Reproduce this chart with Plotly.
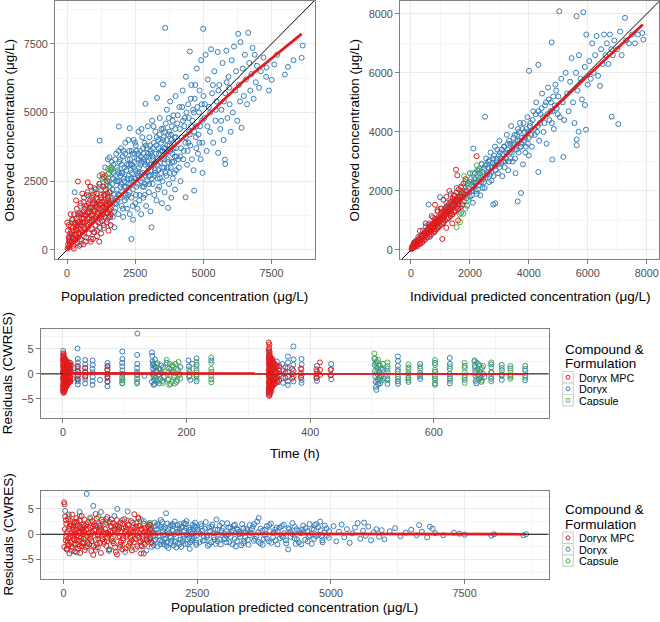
import plotly.graph_objects as go

W, H = 660, 622
RED, BLUE, GREEN = "#E41A1C", "#377EB8", "#4DAF4A"
BORDER, TICKTXT = "#7F7F7F", "#4D4D4D"
FONT = "Liberation Sans, Arial, sans-serif"

# ---------------- data: panel 1 (PRED vs DV) ----------------
p1_doryx = [(50,100),(80,400),(120,250),(150,700),(200,500),(220,1100),(280,2100),(300,350),(350,900),(400,1300),
 (420,600),(480,1600),(500,200),(550,1000),(600,1750),(620,500),(680,1300),(720,2000),(750,800),(800,1500),(850,2300),
 (880,400),(900,1100),(950,1800),(980,650),(1000,2250),(1050,1200),(1080,1900),(1100,700),(1150,1500),(1200,3980),
 (1200,2300),(1220,1000),(1250,1700),(1300,2600),(1320,1300),(1350,800),(1380,2000),(1400,3000),(1420,1500),(1450,2400),
 (1480,1100),(1500,1800),(1500,3300),(1520,2600),(1550,1400),(1560,3370),(1580,2100),(1600,900),(1620,2900),(1640,1700),
 (1660,2400),(1680,1200),(1700,3100),(1720,2000),(1740,823),(1760,2700),(1780,1500),(1800,3500),(1820,2200),(1840,1800),
 (1860,2900),(1880,1300),(1900,4490),(1900,2500),(1920,3200),(1940,1900),(1960,2300),(1980,3700),(2000,1600),(2000,2800),
 (2020,2100),(2040,3400),(2060,1200),(2080,2600),(2100,3000),(2120,1800),(2140,3900),(2160,2300),(2180,2900),(2200,1500),
 (2220,3300),(2240,2000),(2260,2700),(2280,3600),(2300,4430),(2300,1300),(2320,2400),(2340,3100),(2360,400),(2360,1900),
 (2380,2800),(2400,3500),(2420,1100),(2420,2200),(2440,4000),(2460,2600),(2480,3200),(2500,1700),(2500,2900),(2520,3800),
 (2540,2300),(2560,3300),(2580,1500),(2600,2700),(2620,4300),(2640,3000),(2660,2000),(2680,3600),(2700,2500),(2720,1300),
 (2740,3200),(2760,4100),(2780,2800),(2800,1900),(2800,3500),(2820,2300),(2840,3900),(2860,2700),(2876,5314),(2880,3100),
 (2900,1600),(2920,3700),(2940,2500),(2960,4500),(2980,3000),(3000,2100),(3000,3400),(3020,4100),(3040,2700),(3060,1400),
 (3080,3600),(3097,823),(3100,3100),(3120,4700),(3140,2400),(3160,3300),(3180,3900),(3200,2000),(3220,2900),(3240,4300),
 (3260,3500),(3280,1800),(3300,5530),(3300,3100),(3320,2600),(3340,4000),(3360,3700),(3380,2300),(3400,4800),(3420,3200),
 (3440,2800),(3460,4400),(3480,1700),(3500,3600),(3500,2500),(3520,6020),(3540,4100),(3560,3000),(3580,2100),(3600,8080),
 (3600,3700),(3620,4600),(3640,2700),(3660,5100),(3680,3300),(3706,1530),(3720,4200),(3740,2400),(3760,3800),(3780,5400),
 (3800,3000),(3820,1900),(3840,4500),(3860,3500),(3880,2600),(3900,4900),(3920,3200),(3940,4100),(3960,2200),(3980,5600),
 (4000,3700),(4000,2900),(4040,4600),(4080,3300),(4120,5200),(4160,2500),(4200,4100),(4240,5800),(4280,3600),(4320,4800),
 (4344,1915),(4360,6300),(4400,3100),(4440,5300),(4480,4300),(4502,7218),(4520,3800),(4560,6000),(4600,4700),(4640,2900),
 (4660,2158),(4680,5500),(4720,4100),(4760,6600),(4800,3500),(4840,5000),(4880,4500),(4920,6900),(4968,2803),(4960,3900),
 (4990,8044),(5000,5600),(5040,4800),(5080,7100),(5120,3600),(5160,6200),(5200,5200),(5240,4300),(5280,7300),(5320,5700),
 (5360,3900),(5400,6500),(5440,4700),(5480,5400),(5520,7200),(5540,3530),(5580,6000),(5620,4400),(5660,5100),(5700,6800),
 (5740,4000),(5786,3287),(5800,3130),(5800,5700),(5840,7250),(5880,4800),(5920,6300),(5960,5300),(6000,4300),(6040,6900),
 (6080,5000),(6120,7400),(6160,5800),(6200,6500),(6240,4700),(6274,7862),(6300,6000),(6340,5400),(6360,7560),(6399,4441),
 (6440,6600),(6480,5600),(6520,7100),(6560,6200),(6600,5300),(6641,7899),(6680,6800),(6720,5800),(6760,6400),(6800,7350),
 (6840,5500),(6880,7100),(6920,6100),(6960,6700),(7040,5900),(7100,6500),(7200,7000),(7300,6300),(7316,6635),(7400,5800),
 (7499,6188),(7600,6750),(7700,7100),(7987,6381),(8100,6660),(8300,6900),(8600,6989),(8637,7437),
 (1530,1200),(1570,2300),(1610,3000),(1650,1900),(1690,2600),(1730,1400),(1770,3300),(1810,1700),(1850,2500),(1890,3600),
 (1930,2000),(1970,2700),(2010,3100),(2050,1500),(2090,2300),(2130,3500),(2170,1900),(2210,2600),(2250,4000),(2290,2100),
 (2330,2900),(2370,3600),(2410,1600),(2450,3000),(2490,3900),(2530,2000),(2570,2800),(2610,3500),(2650,1800),(2690,3100),
 (2730,4400),(2770,2300),(2810,3300),(2850,2000),(2890,3800),(2930,2800),(2970,3500),(3010,2400),(3050,3800),(3090,2900),
 (3130,3400),(3170,4500),(3210,2700),(3250,3200),(3290,4100),(3330,2200),(3370,3500),(3410,2600),(3450,3900),(3490,3000),
 (3530,4400),(3570,3300),(3610,2800),(3650,4000),(3690,3000),(3730,4800),(3770,2800),(3810,4200),(3850,3200),(3890,3900),
 (3930,2800),(3970,4400),(4020,3400),(4060,4900),(4100,3000),(4140,4400),(4180,3700),(4220,5200),(4260,3300),(4300,4500),
 (4340,3900),(4380,5000),(4420,3600),(4460,4800),(4500,4200),(4540,5500),(4580,3300),(4620,5100),(4660,4300),(4700,6000),
 (4740,3700),(4780,5200),(4820,4200),(4860,5800),(4900,3300),(4940,5300),
 (1540,2800),(1590,1700),(1630,3200),(1670,2200),(1710,2800),(1750,1700),(1790,2500),(1830,3000),(1870,2000),(1910,2800),
 (1950,3300),(1990,2400),(2030,2800),(2070,3600),(2110,2500),(2150,2000),(2190,3100),(2230,2400),(2270,3100),(2310,3300),
 (2350,2600),(2390,3100),(2430,2500),(2470,3500),(2510,2600),(2550,3600),(2590,2400),(2630,3300),(2670,2800),(2710,3400),
 (2750,2600),(2790,3700),(2830,3200),(2870,2400),(2910,3400),(2950,3200),(2990,2700),(3030,3100),(3070,3500),(3110,2600),
 (3150,3700),(3190,3100),(3230,2800),(3270,3800),(3310,3300),(3350,2900),(3390,4200),(3430,3600),(3470,3300),(3510,4000),
 (3550,3700),(3590,4300),(3630,3500),(3670,3800),(3710,3200),(3750,4300),(3790,3600),(3830,4000),(3870,4700),(3910,3700),
 (3950,3400),(3990,4100),(4150,3400),(4250,4700),(4350,4100),(4450,3900),(4550,4500),(4650,5000),(4750,4500),(4850,3900),
 (4950,4700),(5050,5300),(5150,4500),(5250,5000),(5350,6000),(5450,5100),(5550,5800),(5650,4700),(5750,5400),(5850,6100),
 (5950,5900)]
p1_capsule = [(300,900),(500,1300),(700,1600),(900,1200),(1000,2100),(1200,2400),(1300,2600),(1400,2700),(1450,2300),
 (1500,2000),(1100,1700),(800,2000),(600,1000),(400,500),(200,1000),(1350,1400),(1550,2500),(1250,2200),(950,1500),
 (1600,1700),(1600,2900),(1650,2980),(1500,2750),(1505,2950),(1200,2700)]
p1_mpc = [(20,50),(40,200),(60,450),(30,700),(10,1000),(80,120),(100,350),(120,600),(150,850),(150,250),(180,1100),
 (200,450),(220,150),(240,700),(260,1300),(280,950),(300,350),(320,550),(350,1150),(360,1500),(380,250),(400,800),
 (400,2490),(420,1000),(450,600),(470,1350),(500,400),(500,1700),(520,900),(550,1150),(570,650),(600,1400),(600,200),
 (620,1900),(650,1000),(670,750),(700,1250),(700,450),(720,1600),(750,2100),(760,2460),(780,900),(800,1150),(800,600),
 (820,1400),(850,1800),(870,300),(900,1050),(900,1550),(920,750),(950,1300),(950,2000),(980,1100),(1000,650),(1000,1700),
 (1020,1400),(1050,900),(1050,2200),(1080,1200),(1100,1550),(1100,500),(1120,1850),(1150,1000),(1150,1350),(1180,2400),
 (1200,1650),(1200,800),(1220,1250),(1250,2000),(1250,1450),(1280,1050),(1300,1750),(1300,2750),(1320,1300),(1350,2650),
 (1350,900),(1370,1550),(1400,2200),(1400,1200),(1420,1850),(1450,1000),(1450,1600),(1480,2500),(1500,1350),(1500,1900),
 (1520,700),(1550,1700),(1550,2100),(1580,1200),(1600,1500),(1600,900),(1620,1800),(250,50),(450,150),(680,300),(950,400),
 (1250,600),(130,1300),(60,900),(330,1800),(560,2050),(860,2300),(1180,300),(70,300),(180,550),(330,750),(480,950),
 (640,1250),(780,1350),(930,1700),(1080,1650),(1230,1900),(1380,1750),
 (90,500),(170,300),(210,800),(270,550),(310,1000),(370,700),(410,450),(440,1200),(490,750),(530,1300),(580,1000),(630,800),
 (660,1500),(710,1050),(740,1350),(790,1700),(830,1000),(880,1250),(910,1900),(970,1450),(1010,1150),(1060,1600),(1110,1300),
 (1160,1750),(1210,1500),(1260,1200),(1310,1550),(1360,2000),(1410,1650),(1460,1350),(1510,1650),(1560,1450),(1610,1300),
 (1470,2050),(1330,2300),(1090,2050),(840,1550),(610,1150),(390,900),(230,400)]
loess1_x = [0, 800, 1600, 2500, 3700, 5000, 6350, 7500, 8600]
loess1_y = [30, 850, 1640, 2470, 3560, 4750, 6040, 6960, 7860]

# ---------------- data: panel 2 (IPRED vs DV) ----------------
p2_doryx = [(50,80),(100,250),(150,120),(200,300),(250,450),(300,200),(350,500),(400,650),(450,350),(500,800),(550,550),
 (600,1540),(620,900),(650,450),(700,750),(750,1100),(800,600),(850,950),(900,1300),(950,800),(984,1790),(1000,1050),
 (1050,1400),(1100,900),(1150,1250),(1200,1600),(1250,1050),(1300,1450),(1350,1900),(1400,1200),(1450,1650),(1500,1300),
 (1550,2100),(1600,1500),(1650,1800),(1700,1250),(1750,2000),(1800,1650),(1850,2300),(1900,1500),(1950,2100),(2000,1800),
 (2000,2600),(2050,2200),(2100,1600),(2115,3440),(2150,2400),(2200,2000),(2250,2700),(2300,2200),(2350,1850),(2400,2900),
 (2450,2400),(2500,2100),(2512,4514),(2550,3100),(2600,2600),(2650,2300),(2700,3300),(2750,2800),(2794,1542),(2800,2500),
 (2850,3500),(2860,1580),(2900,3000),(2950,2600),(3000,3700),(3000,2800),(2080,2000),(2180,2250),(2280,2500),(2380,2300),
 (2480,2750),(2580,2900),(2680,2550),(2780,3100),(2880,2700),(2980,3200),(3050,3100),(3100,2500),(3150,3500),(3200,3000),
 (3250,3900),(3300,2700),(3350,3300),(3400,4200),(3450,3000),(3500,3600),(3550,2600),(3600,3900),(3621,1644),(3650,3300),
 (3700,4300),(3733,1927),(3750,3600),(3800,2900),(3850,4000),(3900,3500),(3950,4500),(4000,3800),(4000,3200),(3080,3400),
 (3180,2800),(3280,3600),(3380,3100),(3480,3800),(3580,3400),(3680,3700),(3780,4100),(3880,3300),(3980,4000),(4005,6069),
 (4050,4300),(4100,3500),(4150,4700),(4200,3900),(4250,5000),(4300,4200),(4321,6273),(4321,2641),(4350,3700),(4400,4600),
 (4450,5300),(4500,4000),(4550,4900),(4600,3600),(4650,5500),(4700,4400),(4750,5000),(4775,7033),(4796,3064),(4800,4700),
 (4850,4100),(4900,5600),(4950,4800),(5000,5200),(5034,8088),(5050,4500),(5100,5800),(5150,5000),(5170,3152),(5200,4400),
 (5250,6000),(5300,5300),(5350,4700),(5400,5700),(5450,6500),(5500,5000),(5550,4300),(5600,6000),(5622,7918),(5624,3550),
 (5624,3745),(5650,5400),(5690,4008),(5700,6600),(5750,5800),(5800,5100),(5848,8054),(5905,4912),(5900,6200),(5940,4076),
 (5950,7300),(6000,5600),(6050,6400),(6100,5800),(6150,7000),(6200,6000),(6250,6600),(6300,7250),(6350,5900),(6415,5559),
 (6450,6800),(6500,6300),(6550,7300),(6600,6600),(6650,7000),(6700,6300),(6750,7300),(6812,4514),(6800,6800),(6850,6600),
 (6900,7100),(7000,6800),(7036,4265),(7100,7400),(7150,6600),(7263,7863),(7300,7100),(7400,7000),(7500,7300),(7600,7000),
 (7700,7300),(7850,7350),(7884,7125),(2130,2300),(2230,1900),(2330,2600),(2430,2100),(2530,2450),(2630,3000),(2730,2350),
 (2830,2900),(2930,3400),(3130,3000),(3230,3300),(3330,3700),(3430,3400),(3530,3100),(3630,4100),(3730,3500),(3830,3700),
 (1520,1650),(1580,1400),(1630,1700),(1680,1900),(1730,1500),(1780,1800),(1830,2000),(1880,1750),(1930,2250),(1980,1950),
 (2030,2400),(2070,1850),(2120,2150),(2170,2600),(2220,2300),(2270,2050),(2320,2750),(2370,2450),(2420,2650),(2470,2300),
 (2520,2850),(2570,2550),(2620,2800),(2670,3050),(2720,2650),(2770,2950),(2820,3200),(2870,2850),(2920,3100),(2970,2900),
 (3020,3300),(3070,2950),(3120,3250),(3170,3500),(3220,3100),(3270,3400),(3320,3000),(3370,3600),(3420,3300),(3470,3550),
 (3520,3900),(3570,3500),(3620,3700),(3670,4000),(3720,3500),(3770,3800),(3820,4300),(3870,3800),(3920,4100),(3970,3600),
 (4030,4200),(4080,3900),(4130,4400),(4180,4100),(4230,4600),(4280,4000),(4330,4700),(4380,4300),(4430,4800),(4480,4500),
 (4530,4300),(4580,5000),(4630,4600),(4680,5100),(4730,4700),(4780,4300),(4830,5200),(4880,4900),(4930,5400),(4980,4600)]
p2_capsule = [(2229,2870),(2342,2586),(1663,940),(1551,770),(1776,1225),(2399,2927),(2100,2600),(2000,2300),(1900,2200),
 (1800,2500),(1700,2100),(1600,1800),(1500,1650),(1400,1500),(1300,1300),(1200,1350),(1100,1150),(1000,1100),(900,950),
 (800,700),(700,800),(600,600),(1950,1700),(1850,1400),(2200,2400),(2300,2700),(1750,1900),(1650,1200)]
p2_mpc = [(20,30),(40,120),(60,60),(80,180),(100,90),(120,250),(140,150),(160,300),(180,200),(200,120),(220,350),(240,250),
 (260,180),(280,400),(300,300),(320,220),(340,480),(360,350),(380,260),(400,520),(420,420),(440,320),(460,600),(480,480),
 (500,380),(520,650),(540,540),(560,430),(580,720),(600,600),(620,480),(640,780),(660,650),(680,530),(700,850),(720,720),
 (740,580),(760,900),(780,780),(800,640),(815,1532),(820,980),(840,850),(860,700),(880,1050),(900,900),(920,760),(940,1120),
 (960,980),(980,820),(1000,1200),(1020,1050),(1040,880),(1063,374),(1060,1280),(1080,1100),(1100,950),(1120,1350),
 (1140,1160),(1160,1000),(1180,1420),(1200,1220),(1220,1050),(1240,1500),(1260,1300),(1280,1100),(1300,1580),(1320,1350),
 (1340,1150),(1360,1650),(1380,1420),(1400,1200),(1420,1750),(1440,1500),(1460,1280),(1480,1850),(1500,1560),(1527,2723),
 (1520,1340),(1572,2529),(1550,1950),(1580,1650),(1600,1400),(1620,2050),(1650,1700),(1680,1450),(1700,2150),(1720,1800),
 (1754,1550),(1780,2250),(1800,1900),(2229,3176),(1850,2400),(1900,2000),(1400,900),(1200,750),(900,1350),(700,1150),
 (500,900),(300,650),(1600,1000),(1300,2000),(1100,1700),(1000,1400),(800,1050),(600,850),(1200,1800),(1450,1850),
 (30,60),(70,130),(110,200),(170,180),(230,280),(290,330),(350,420),(410,470),(470,550),(530,580),(590,650),(650,720),
 (710,780),(770,850),(830,900),(890,980),(950,1030),(1010,1100),(1070,1180),(1130,1250),(1190,1300),(1250,1380),(1310,1420),
 (1370,1500),(1430,1560),(1490,1650),(1550,1700),(1610,1750),(1670,1800),(1730,1950),(600,750),(800,950),(1000,1000),
 (1200,1450),(1400,1650),(900,750),(1100,1050),(1300,1200),(700,650),(500,600)]
loess2_x = [0, 2000, 4000, 6000, 7870]
loess2_y = [0, 1990, 3980, 5900, 7640]

# ---------------- data: panel 3 (TIME vs CWRES) ----------------
p3_mpc = [(0.5,3.9),(0.5,2.5),(0.5,1.2),(0.5,0.3),(0.5,-0.8),(0.5,-2.1),(0.5,-3.5),(1,4.1),(1,3.0),(1,1.8),(1,0.6),(1,-0.2),
 (1,-1.3),(1,-2.6),(1,-3.8),(1.5,3.4),(1.5,2.2),(1.5,1.0),(1.5,0.1),(1.5,-0.9),(1.5,-1.9),(1.5,-3.1),(2,2.8),(2,1.5),(2,0.5),
 (2,-0.4),(2,-1.6),(2,-2.8),(2,-3.6),(3,3.2),(3,2.0),(3,0.9),(3,-0.1),(3,-1.1),(3,-2.3),(3,-3.3),(4,2.5),(4,1.3),(4,0.4),
 (4,-0.6),(4,-1.7),(4,-2.7),(5,2.1),(5,1.0),(5,0.0),(5,-1.0),(5,-2.2),(6,2.6),(6,1.6),(6,0.7),(6,-0.3),(6,-1.4),(6,-2.5),
 (8,1.8),(8,0.8),(8,-0.2),(8,-1.2),(8,-2.0),(10,1.9),(10,0.6),(10,-0.5),(10,-1.5),(12,2.2),(12,1.1),(12,0.2),(12,-0.7),
 (12,-1.6),(24,1.4),(24,0.5),(24,-0.4),(24,-1.1),(36,1.2),(36,0.3),(36,-0.6),(72,1.6),(72,0.8),(72,0.0),(72,-0.8),(72,-1.5),
 (333,6.3),(333,4.8),(333,3.2),(333,1.9),(333,0.7),(333,-0.5),(333,-1.8),(333,-3.0),(333,-4.2),(334,5.9),(334,4.0),(334,2.6),
 (334,1.3),(334,0.2),(334,-1.0),(334,-2.4),(334,-3.6),(334,-4.4),(335,3.6),(335,2.1),(335,0.9),(335,-0.3),(335,-1.5),(335,-2.8),
 (335,-4.0),(336,3.0),(336,1.6),(336,0.4),(336,-0.8),(336,-2.0),(336,-3.3),(337,2.7),(337,1.4),(337,0.1),(337,-1.1),(337,-2.3),
 (337,-3.5),(339,2.4),(339,1.1),(339,-0.2),(339,-1.4),(339,-2.6),(341,2.0),(341,0.8),(341,-0.4),(341,-1.6),(341,-2.2),
 (344,1.7),(344,0.5),(344,-0.6),(344,-1.8),(347,1.5),(347,0.3),(347,-0.7),(347,-1.5),(350,1.6),(350,0.6),(350,-0.3),(350,-1.2),
 (360,1.3),(360,0.2),(360,-0.8),(371,1.0),(371,0.0),(371,-0.9),(385,1.1),(385,0.1),(385,-0.7),(410,0.9),(410,-0.1),(410,-0.8),
 (416,2.3),(416,0.8),(416,-0.2),(433,0.8),(433,-0.3),
 (0.25,3.0),(0.25,1.7),(0.25,0.4),(0.25,-1.0),(0.25,-2.4),(0.25,-3.2),(0.75,3.6),(0.75,2.0),(0.75,0.8),(0.75,-0.5),
 (0.75,-1.7),(0.75,-3.0),(1.25,2.6),(1.25,1.4),(1.25,-0.6),(1.25,-2.2),(1.25,-3.4),(2.5,2.3),(2.5,1.1),(2.5,-0.2),(2.5,-1.3),
 (2.5,-2.4),(2.5,-3.0),(3.5,2.7),(3.5,1.5),(3.5,0.2),(3.5,-0.9),(3.5,-2.0),(3.5,-2.9),(7,2.0),(7,0.9),(7,-0.3),(7,-1.3),
 (7,-2.2),(9,1.6),(9,0.4),(9,-0.8),(9,-1.8),(11,1.7),(11,0.5),(11,-0.6),(11,-1.4),
 (333.5,5.2),(333.5,3.8),(333.5,2.4),(333.5,1.0),(333.5,-0.2),(333.5,-1.4),(333.5,-2.6),(333.5,-3.8),(334.5,4.4),(334.5,2.9),
 (334.5,1.6),(334.5,0.4),(334.5,-0.7),(334.5,-2.0),(334.5,-3.2),(335.5,3.3),(335.5,1.8),(335.5,0.6),(335.5,-0.6),(335.5,-1.8),
 (335.5,-3.0),(338,2.8),(338,1.3),(338,0.0),(338,-1.2),(338,-2.5),(340,2.2),(340,0.9),(340,-0.5),(340,-1.8),(342,1.9),
 (342,0.4),(342,-0.9),(342,-2.0),(345,1.6),(345,0.2),(345,-1.0)]
p3_doryx = [(0.3,4.6),(0.5,2.8),(0.8,-2.9),(1,3.4),(1.5,-3.2),(2,3.0),(2.5,-2.5),(3,1.9),(4,-2.2),(5,2.6),(6,-1.8),(7,2.2),
 (8,1.5),(9,-1.6),(10,2.3),(11,1.0),(12,-1.4),(13,0.6),(14,1.7),(15,-0.9),(17,1.2),(23.5,5.1),(24,3.0),(24.2,2.3),(24,1.6),
 (23.8,1.0),(24.3,0.4),(24,-0.3),(23.7,-0.9),(24.1,-1.5),(24,-2.1),(36,2.8),(36.2,1.9),(35.8,1.2),(36,0.5),(36.3,-0.4),(36,-1.1),
 (35.9,-1.9),(48,2.7),(48.3,1.8),(47.8,1.0),(48,0.3),(48.2,-0.6),(48,-1.4),(47.9,-2.2),(60,-1.2),(72,2.2),(72.3,1.5),(71.8,0.9),
 (72,-0.5),(72.2,-1.6),(72,-2.5),(96,4.5),(96.3,3.0),(95.8,2.2),(96,1.5),(96.2,0.7),(96,0.0),(95.9,-0.7),(96.1,-1.3),(96,-1.9),
 (120.5,8.1),(120,3.8),(120.3,2.0),(119.8,1.2),(120,0.4),(120.2,-0.3),(120,-1.0),(119.9,-1.9),(132,-0.4),(144,4.3),(144.5,3.6),
 (145,2.5),(145.5,1.8),(146,1.0),(146.5,0.3),(147,-0.5),(147.5,-1.2),(148,-2.0),(149,2.9),(150,1.4),(150.5,-0.8),(151,0.6),
 (152,-1.6),(153,2.1),(154,-0.2),(155,1.1),(156,-1.9),(157,0.8),(158,-1.0),(159,1.7),(160,0.2),(161,-1.4),(162,1.3),(163,-0.6),
 (144,-1.6),(145,0.0),(146,2.1),(147,-2.2),(148,1.5),(168,2.2),(170,-1.2),(172,1.1),(174,-2.0),(176,0.4),(178,1.6),(180,-0.7),
 (182,2.0),(184,-1.6),(186,0.8),(188,-0.2),(190,1.4),(203,2.7),(204,1.5),(205,0.4),(204,-0.6),(206,-1.2),(209,2.0),(216,3.1),
 (216.3,1.8),(216,0.6),(215.8,-0.5),(216.2,-1.5),(240,2.7),(240.2,0.4),(240,-1.1),(333.5,4.5),(334,3.4),(334.5,-2.6),(335,2.6),
 (336,-3.0),(337,1.8),(338,-2.0),(339,3.0),(340,-1.4),(342,2.2),(343,1.2),(345,-0.9),(346,2.5),(348,-1.7),(333,-3.6),(336.5,0.8),
 (338.5,1.4),(355,2.0),(355.5,0.7),(356,-0.8),(356,-1.8),(364,3.5),(364.2,2.3),(363.8,1.2),(364,0.4),(364.1,-0.6),(364,-1.5),
 (363.9,-2.2),(373,5.5),(373.2,2.9),(372.8,1.8),(373,0.6),(373.1,-0.5),(373,-1.5),(386,3.0),(386.2,1.9),(385.8,0.9),(386,-0.3),
 (386.1,-1.2),(386,-1.8),(411,1.6),(411.2,0.5),(411,-0.8),(411.1,-1.4),(434,2.0),(434.2,1.0),(434,-0.2),(434.1,-1.1),
 (504,3.0),(504.5,1.8),(505,0.6),(505.5,-0.5),(506,-1.6),(506.5,-2.6),(507,-3.2),(508,2.4),(508.5,1.2),(509,-0.1),(509.5,-1.1),
 (510,-2.1),(511,1.7),(512,0.4),(512.5,-0.8),(513,-1.9),(514,1.0),(515,-0.3),(516,-1.3),(517,0.8),(518,2.0),(519,-0.9),
 (525,1.5),(525.2,0.3),(525,-0.9),(525.1,-2.0),(542,3.5),(542.2,2.6),(542,1.6),(541.8,0.5),(542.1,-0.6),(542,-1.5),(542.2,-2.0),
 (559,1.3),(559.1,0.1),(559,-0.8),(559.2,-1.6),(578,2.0),(578.2,1.1),(578,0.2),(577.8,-0.5),(578.1,-1.0),(602,2.2),(602.2,0.4),
 (602,-0.9),(602.1,-1.9),(626,3.2),(626.2,2.0),(626,1.0),(625.8,0.0),(626.1,-0.9),(626,-1.9),(650,1.6),(650.2,-0.3),(650,-1.2),
 (666,2.7),(666.5,1.6),(667,0.6),(667.5,-0.4),(668,-1.4),(669,-1.9),(670,2.2),(671,1.0),(672,-0.2),(673,-1.1),(674,1.8),
 (675,0.3),(676,-0.8),(677,-1.6),(678,1.2),(680,0.0),(682,-0.6),(693,1.9),(693.2,0.2),(693,-1.0),(710,1.8),(710.2,0.7),
 (710,-0.4),(710.1,-1.2),(724,1.1),(724.2,-0.6),(748,1.6),(748.2,0.6),(748,-0.3),(747.8,-1.3)]
p3_capsule = [(96,-1.8),(96.2,-1.2),(120,-1.6),(120.2,0.0),(149,-0.4),(151,1.9),(155,-1.3),(158,0.9),(162,-1.8),(168,2.8),
 (169,1.3),(170,0.2),(171,-1.0),(172,-2.2),(173,2.0),(175,0.9),(176,-1.6),(177,1.7),(179,0.5),(180,-0.3),(181,-1.9),(183,1.0),
 (185,-1.2),(187,2.4),(189,0.0),(190,-0.9),(204,0.9),(205,-0.4),(216,2.4),(216.1,1.1),(216,-0.2),(216.2,-1.0),(240,3.3),
 (240.2,2.2),(240,1.0),(239.8,-0.4),(240.1,-1.7),(504,4.1),(505,3.2),(506,2.3),(507,1.5),(508,0.3),(509,-1.6),(510,2.8),
 (512,1.9),(514,-0.8),(516,1.2),(525,2.3),(525.2,1.0),(525,-0.3),(524.9,-1.3),(542,0.9),(542.1,-1.0),(559,1.9),(559.2,0.8),
 (559,-0.3),(558.8,-1.2),(578,1.5),(578.2,-0.2),(602,2.8),(602.2,1.8),(602,0.8),(601.8,-0.4),(602.1,-1.3),(602,-2.2),
 (626,1.5),(626.2,-0.5),(626,-1.4),(650,2.2),(650.2,1.2),(650,0.3),(649.8,-0.7),(650.1,-1.8),(666,2.5),(667,1.2),(668,0.1),
 (670,-1.0),(672,1.9),(674,-0.4),(676,0.9),(678,-1.3),(680,1.6),(693,2.3),(693.2,1.3),(693,0.4),(692.8,-0.6),(693.1,-1.5),
 (710,1.2),(710.2,-0.1),(724,1.6),(724.2,0.6),(724,-0.3),(723.8,-1.0),(748,1.0),(748.2,-0.8)]
loess3_x = [0, 100, 200, 300, 400, 500, 600, 700, 748]
loess3_y = [0.10, 0.08, 0.10, 0.12, 0.10, 0.08, 0.10, 0.08, 0.06]

# ---------------- data: panel 4 (PRED vs CWRES) ----------------
p4_doryx = [(30,4.6),(60,-2.8),(100,3.9),(150,-3.3),(200,2.5),(250,-3.6),(300,4.4),(350,1.2),(434,7.96),(450,-2.4),(500,3.3),
 (557,5.6),(600,-3.1),(650,2.0),(700,4.4),(750,-1.9),(800,3.0),(850,-3.3),(900,1.5),(950,3.6),(1006,5.0),(1050,-2.6),
 (1100,2.8),(1150,-3.5),(1200,4.5),(1250,-1.8),(1300,2.3),(1350,-2.9),(1400,3.1),(1450,-2.2),(1500,2.6),(1550,-3.2),(1600,1.9),
 (1620,-0.6),(1640,1.2),(1660,-1.8),(1680,0.4),(1700,2.3),(1720,-1.1),(1740,0.9),(1760,-2.4),(1780,1.7),(1800,-0.3),(1820,2.8),
 (1840,-1.5),(1860,0.6),(1880,-2.0),(1900,1.4),(1917,4.15),(1920,-0.8),(1940,2.1),(1960,-2.7),(1980,0.2),(2000,1.8),(2020,-1.3),
 (2040,0.8),(2060,-2.2),(2080,2.5),(2100,-0.5),(2120,1.1),(2140,-1.7),(2160,0.3),(2180,2.0),(2200,-2.5),(2220,1.5),(2240,-0.9),
 (2260,0.7),(2280,-1.9),(2300,2.6),(2320,-0.2),(2340,1.3),(2360,-2.9),(2380,0.5),(2400,-1.2),(2420,1.9),(2440,-0.6),(2460,2.3),
 (2480,-2.1),(2500,0.9),(2540,-1.6),(2580,1.6),(2620,-0.4),(2660,2.4),(2700,-2.3),(2740,0.6),(2780,1.9),(2820,-1.1),(2860,2.9),
 (2900,-0.1),(2940,-2.0),(2980,1.2),(3020,-0.8),(3060,2.2),(3100,-1.6),(3140,0.4),(3180,1.7),(3220,-2.4),(3260,0.9),(3300,-0.5),
 (3340,2.0),(3380,-1.3),(3420,1.1),(3460,-2.1),(3500,0.3),(3540,1.5),(3580,-0.9),(3620,2.5),(3650,3.2),(3680,-1.8),(3720,0.7),
 (3760,-0.2),(3800,1.6),(3840,-1.4),(3880,2.1),(3920,-0.6),(3960,0.9),(4000,-2.0),(4040,1.3),(4080,-0.3),(4120,1.9),(4160,-1.2),
 (4200,-3.0),(4240,0.5),(4280,2.2),(4320,-0.8),(4360,1.0),(4400,-1.6),(4440,0.2),(4480,1.7),(4520,-1.1),(4560,0.6),(4600,2.0),
 (4640,-1.9),(4680,0.9),(4720,-0.4),(4760,1.4),(4800,2.5),(4840,-1.2),(4880,0.3),(4920,1.1),(4960,-0.7),(5050,1.6),(5100,-1.4),
 (5150,0.5),(5200,1.9),(5250,-0.6),(5300,1.0),(5350,-1.7),(5400,0.2),(5450,1.3),(5500,2.2),(5550,-0.9),(5600,0.7),(5620,2.3),
 (5650,-0.3),(5700,1.5),(5750,-1.2),(5800,0.4),(5850,1.0),(5900,-0.5),(5950,0.8),(6000,-1.0),(6100,0.6),(6200,1.2),(6300,-0.4),
 (6400,0.3),(6500,0.9),(6600,-0.2),(6650,1.8),(6700,0.5),(6800,-0.6),(6850,1.5),(6900,1.1),(6950,0.2),(7100,-0.2),(7300,0.3),
 (7400,0.1),(7500,-0.1),(8000,-0.3),(8050,0.0),(8600,-0.2),(8650,0.0),(1630,1.0),(1690,-1.3),(1750,2.0),(1810,-2.0),(1870,1.1),
 (1930,-1.6),(1990,-0.5),(2050,1.6),(2110,-2.6),(2170,0.9),(2230,-1.4),(2290,1.2),(2350,-0.7),(2410,0.2),(2470,1.4),(2560,0.1),
 (2640,-1.2),(2720,1.3),(2800,0.2),(2880,-1.4),(2960,0.7),(3040,-0.3),(3120,1.3),(3200,-0.9),(3280,0.5),(3360,-1.8),(3440,0.8),
 (1610,2.2),(1650,-2.5),(1710,0.1),(1770,-0.4),(1830,1.4),(1890,-1.0),(1950,0.6),(2010,-1.8),(2070,0.0),(2130,1.8),(2190,-1.1),
 (2250,2.2),(2310,0.0),(2370,-1.6),(2430,1.0),(2490,-0.3),(2600,0.7),(2680,-0.6),(2760,-1.6),(2840,0.9),(2920,1.7),(3000,-1.0),
 (3080,0.0),(3160,-2.0),(3240,1.1),(3320,0.2),(3400,-0.6),(3480,1.8),(3560,-1.3),(3640,0.4),(3740,-0.9),(3860,0.6),(3980,1.3),
 (4100,-0.6),(4220,1.0),(4340,-1.9),(4460,0.9),(4580,-0.5),(4700,1.8),(4820,-0.4),
 (1605,-1.0),(1645,0.7),(1685,-2.2),(1725,1.6),(1765,0.3),(1805,-1.2),(1845,2.4),(1885,0.0),(1925,-2.3),(1965,1.0),(2005,-0.7),
 (2045,2.0),(2085,-1.5),(2125,0.5),(2165,-2.0),(2205,1.3),(2245,-0.3),(2285,2.1),(2325,-1.9),(2365,0.9),(2405,-0.9),(2445,1.6),
 (2485,-1.7),(2525,0.4),(2565,2.0),(2605,-1.3),(2645,1.1),(2685,-0.2),(2725,-2.0),(2765,1.5),(2805,-0.6),(2845,-1.9),(2885,0.9),
 (2925,-1.0),(2965,2.2),(3005,0.1),(3045,-1.6),(3085,1.3),(3125,-0.5),(3165,0.8),(3205,1.9),(3245,-1.4),(3285,0.0),(3325,-2.2),
 (3365,1.2),(3405,0.4),(3445,-1.1),(3485,-0.2),(3525,1.0),(3565,2.0),(3605,-0.4),(3645,-1.5),(3685,1.1),(3725,-2.1),(3765,0.9),
 (3805,-0.9),(3845,1.8),(3885,-1.7),(3925,0.3),(3965,-1.2),(4005,0.6),(4045,-0.8),(4085,1.6),(4125,0.2),(4165,-1.8),(4205,1.2),
 (4245,-0.5),(4285,0.0),(4325,1.5),(4365,-1.0),(4405,0.7),(4445,-2.0),(4485,0.4),(4525,1.2),(4565,-1.4),(4605,-0.2),(4645,1.0),
 (4685,-0.9),(4725,2.0),(4765,-0.1),(4805,0.8),(4845,-1.6),(4885,1.7),(4925,-0.3),(4965,0.6)]
p4_capsule = [(100,3.5),(200,-2.0),(300,1.6),(400,-0.8),(500,3.0),(600,-2.6),(700,0.7),(800,2.3),(900,-1.3),(1000,1.1),
 (1100,-2.2),(1200,2.7),(1300,-0.4),(1400,1.7),(1500,-1.7),(1600,0.6),(250,2.5),(450,-1.5),(650,3.4),(850,-3.0),(1050,2.0),
 (1250,-2.8),(1450,2.9),(1550,-1.0),(300,3.6),(1617,2.2),(1430,-1.5)]
p4_mpc = [(10,6.3),(20,5.9),(30,3.5),(40,-1.2),(50,2.1),(60,-3.0),(70,0.5),(80,-2.2),(90,3.0),(100,1.0),(110,-3.8),(120,-0.5),
 (130,2.6),(140,-1.6),(150,0.2),(160,3.9),(170,-2.7),(180,1.4),(190,-0.9),(200,2.2),(210,-3.4),(220,0.7),(230,-1.9),(240,3.2),
 (250,-0.2),(260,1.8),(270,-2.9),(280,0.4),(290,-1.3),(300,2.7),(310,-3.7),(320,1.1),(330,-0.7),(340,3.6),(350,-2.4),(360,0.0),
 (370,1.9),(380,-1.6),(390,2.9),(400,-3.1),(420,0.9),(440,-0.4),(460,2.4),(480,-2.0),(500,1.3),(520,-3.3),(540,0.3),(557,-4.1),
 (570,2.0),(600,4.0),(600,-1.1),(620,3.1),(640,-2.6),(660,0.6),(680,1.7),(700,-3.7),(720,-0.3),(740,2.5),(760,-1.5),(780,1.0),
 (800,-2.3),(820,3.4),(840,0.1),(860,-3.0),(880,1.6),(900,-0.8),(920,2.2),(940,-1.8),(960,0.8),(980,-3.5),(1000,-4.0),(1000,2.8),
 (1020,-0.6),(1040,1.4),(1060,-2.1),(1080,0.4),(1100,2.0),(1120,-1.2),(1140,3.0),(1160,-2.8),(1180,0.9),(1200,-0.1),(1220,1.8),
 (1240,-1.7),(1260,2.6),(1280,-3.2),(1300,0.5),(1324,3.95),(1340,-0.9),(1360,1.5),(1380,-2.4),(1400,3.3),(1420,0.2),(1440,-1.4),
 (1450,-3.8),(1460,1.1),(1480,-0.5),(1500,2.1),(1500,-3.8),(1520,-2.0),(1540,0.8),(1560,-1.1),(1580,1.6),(1600,-0.3),(1620,0.9),
 (1640,-1.6),(1650,0.3),(50,-0.5),(150,1.8),(250,-1.1),(350,0.9),(450,-1.8),(550,1.5),(650,-0.9),(750,0.4),(850,-0.2),(950,1.1),
 (1050,-0.4),(1150,0.6),(1250,-0.6),(1350,0.3),(1450,0.9),(1550,-0.2),(100,-2.0),(300,-2.4),(500,-0.3),(700,1.0),(900,2.9),
 (1100,-3.0),(1300,1.3),(200,0.1),(400,1.6),(600,0.9),(800,0.3),(1200,1.9),
 (25,1.0),(75,-1.5),(125,2.0),(175,-0.3),(225,1.2),(275,-2.0),(325,0.5),(375,-0.9),(425,2.0),(475,0.2),(525,-1.4),(575,0.8),
 (625,-2.0),(675,1.3),(725,-1.0),(775,2.0),(825,-0.7),(875,0.5),(925,-1.4),(975,1.7),(1025,0.9),(1075,-1.6),(1125,1.2),
 (1175,-0.5),(1225,0.3),(1275,-1.2),(1325,1.0),(1375,-0.3),(1425,1.6),(1475,-1.0),(1525,0.4),(1575,-1.5),(1625,-0.8),
 (15,-2.5),(45,2.8),(85,-0.8),(115,1.6),(145,-2.4),(185,0.9),(205,-1.2),(245,2.4),(285,-0.6),(315,1.5),(345,-1.8),(385,0.6),
 (415,-2.6),(455,1.0),(495,-0.9),(535,2.6),(565,-2.3),(605,1.7),(645,-0.2),(685,-1.7),(715,2.9),(765,0.0),(815,-1.4),(865,2.4),
 (915,0.4),(965,-2.6),(1015,1.6),(1065,2.3),(1115,-0.8),(1165,1.4),(1215,-2.3),(1265,0.8),(1315,-1.6),(1365,2.2),(1415,-0.6),
 (1465,-2.4),(1515,1.2),(1565,0.3),(1615,1.8)]
loess4_x = [0, 1000, 2000, 3000, 4000, 5000, 6000, 7000, 8000, 8620]
loess4_y = [0.05, 0.0, 0.02, 0.05, 0.06, 0.05, 0.05, 0.04, 0.02, 0.0]

# axis ticks
conc_ticks_pred = [0, 2500, 5000, 7500]
conc_ticks_ipred = [0, 2000, 4000, 6000, 8000]
time_ticks = [0, 200, 400, 600]
cwres_ticks = [-5, 0, 5]
CWRES_REF = 0

legend_order = [("Doryx MPC", RED), ("Doryx", BLUE), ("Capsule", GREEN)]

# ---------------- geometry (pixels) ----------------
def fx(px): return px / W
def fy(py): return 1 - py / H

panels = {
    1: dict(x=(55, 315), y=(0.5, 259), xr=[-440, 9090], yr=[-330, 9075], xt=conc_ticks_pred, yt=conc_ticks_pred, xm=1250, ym=1250),
    2: dict(x=(400, 659), y=(0.5, 259), xr=[-373, 8417], yr=[-306, 8452], xt=conc_ticks_ipred, yt=conc_ticks_ipred, xm=1000, ym=1000),
    3: dict(x=(40.7, 548.7), y=(329.3, 418.3), xr=[-36, 786], yr=[-8.9, 8.94], xt=time_ticks, yt=cwres_ticks, xm=100, ym=2.5),
    4: dict(x=(41, 548.7), y=(490.7, 579.3), xr=[-421, 9072], yr=[-8.9, 8.6], xt=conc_ticks_pred, yt=cwres_ticks, xm=1250, ym=2.5),
}

fig = go.Figure()
layout = dict(width=W, height=H, margin=dict(l=0, r=0, t=0, b=0), paper_bgcolor="white", plot_bgcolor="white",
              showlegend=False, font=dict(family=FONT, color="black"))

for k, p in panels.items():
    sx = "" if k == 1 else str(k)
    common = dict(showline=True, mirror=True, linecolor=BORDER, linewidth=1, ticks="outside", ticklen=4, tickwidth=1,
                  tickcolor=BORDER, tickfont=dict(size=10.8, color=TICKTXT, family=FONT), showgrid=True,
                  gridcolor="#EBEBEB", gridwidth=1, zeroline=False, tickmode="array", fixedrange=True)
    layout["xaxis" + sx] = dict(common, domain=[fx(p["x"][0]), fx(p["x"][1])], range=p["xr"], tickvals=p["xt"],
                                 anchor="y" + sx, minor=dict(showgrid=True, gridcolor="#F4F4F4", gridwidth=1, tick0=0, dtick=p["xm"]))
    layout["yaxis" + sx] = dict(common, domain=[fy(p["y"][1]), fy(p["y"][0])], range=p["yr"], tickvals=p["yt"],
                                 anchor="x" + sx, minor=dict(showgrid=True, gridcolor="#F4F4F4", gridwidth=1, tick0=0, dtick=p["ym"]))

def pts(data, color, k):
    sx = "" if k == 1 else str(k)
    xs = [a for a, b in data]; ys = [b for a, b in data]
    fig.add_trace(go.Scatter(x=xs, y=ys, mode="markers", xaxis="x" + sx, yaxis="y" + sx,
                             marker=dict(symbol="circle-open", size=5, color=color, line=dict(width=1)), hoverinfo="skip"))

def line(xs, ys, color, width, k):
    sx = "" if k == 1 else str(k)
    fig.add_trace(go.Scatter(x=xs, y=ys, mode="lines", xaxis="x" + sx, yaxis="y" + sx,
                             line=dict(color=color, width=width), hoverinfo="skip"))

panel_data = {1: (p1_doryx, p1_capsule, p1_mpc), 2: (p2_doryx, p2_capsule, p2_mpc),
              3: (p3_doryx, p3_capsule, p3_mpc), 4: (p4_doryx, p4_capsule, p4_mpc)}
loess = {1: (loess1_x, loess1_y), 2: (loess2_x, loess2_y), 3: (loess3_x, loess3_y), 4: (loess4_x, loess4_y)}

for k in (1, 2, 3, 4):
    d_doryx, d_caps, d_mpc = panel_data[k]
    p = panels[k]
    pts(d_doryx, BLUE, k)
    pts(d_caps, GREEN, k)
    if k in (1, 2):
        lo = min(p["xr"][0], p["yr"][0]); hi = max(p["xr"][1], p["yr"][1])
        line([lo, hi], [lo, hi], "black", 1, k)
    pts(d_mpc, RED, k)
    if k in (3, 4):
        line(p["xr"], [CWRES_REF, CWRES_REF], "black", 1, k)
    line(loess[k][0], loess[k][1], RED, 2.7, k)

# ---------------- titles ----------------
ann = []
def text(t, px, py, size=13.5, angle=0, xanchor="center", color="black", height=None):
    a = dict(text=t, x=fx(px), y=fy(py), xref="paper", yref="paper", showarrow=False, textangle=angle,
             xanchor=xanchor, yanchor="middle", font=dict(size=size, color=color, family=FONT))
    if height:
        a["height"] = height
    ann.append(a)

text("Population predicted concentration (μg/L)", 185, 296.7)
text("Individual predicted concentration (μg/L)", 529.5, 296.7)
text("Observed concentration (μg/L)", 8.5, 130, angle=-90)
text("Observed concentration (μg/L)", 353.5, 130, angle=-90)
text("Time (h)", 294.7, 453.3)
text("Residuals (CWRES)", 7.5, 373.8, angle=-90)
text("Population predicted concentration (μg/L)", 294.85, 607)
text("Residuals (CWRES)", 7.5, 535, angle=-90)

# ---------------- legends (drawn) ----------------
shapes = []
for title_y, key_y in ((348.8, 377.3), (509.3, 537.8)):
    text("Compound &", 562.7, title_y, xanchor="left", height=12)
    text("Formulation", 562.7, title_y + 14.4, xanchor="left", height=12)
    for i, (name, col) in enumerate(legend_order):
        cy = key_y + 11.5 * i
        shapes.append(dict(type="rect", xref="paper", yref="paper", xsizemode="pixel", ysizemode="pixel",
                           xanchor=fx(568), yanchor=fy(cy), x0=-5.3, x1=5.3, y0=-5.75, y1=5.75,
                           line=dict(color="#CCCCCC", width=1), fillcolor="white", layer="above"))
        shapes.append(dict(type="circle", xref="paper", yref="paper", xsizemode="pixel", ysizemode="pixel",
                           xanchor=fx(568), yanchor=fy(cy), x0=-2, x1=2, y0=-2, y1=2,
                           line=dict(color=col, width=1), layer="above"))
        text(name, 576.5, cy, size=10.8, xanchor="left", height=11)

layout["annotations"] = ann
layout["shapes"] = shapes
fig.update_layout(**layout)
fig.write_html("out.html", config={"displayModeBar": False, "staticPlot": True},
               post_script="document.body.style.margin='0';document.body.style.padding='0';")
